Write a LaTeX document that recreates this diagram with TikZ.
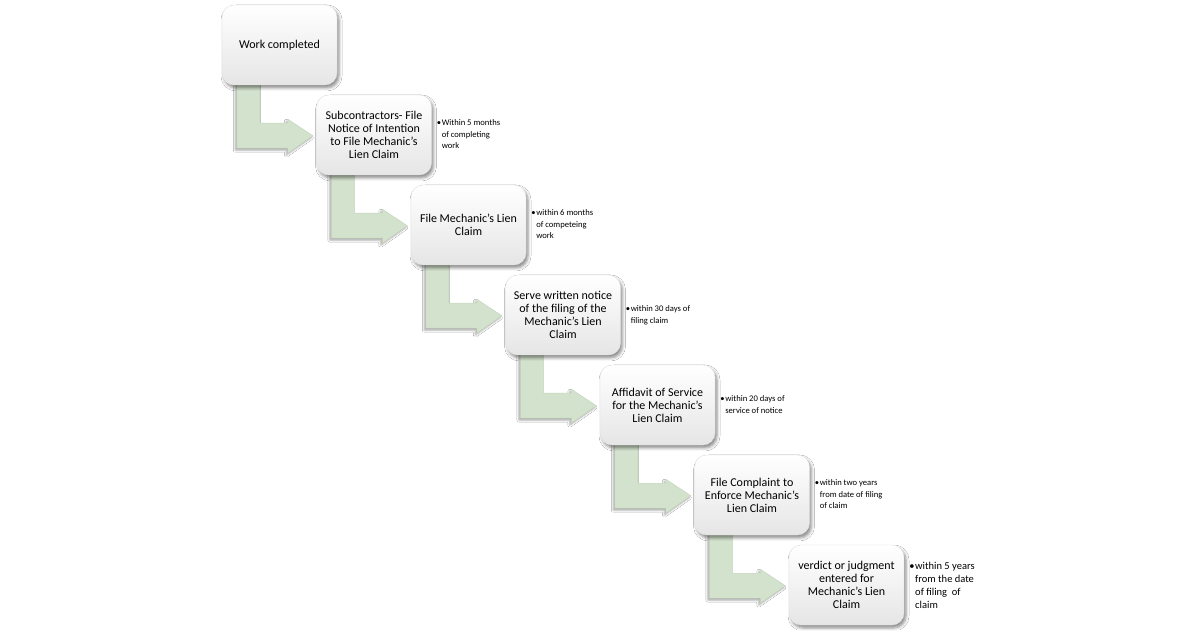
\documentclass[tikz,border=0pt]{standalone}
\usepackage{fontspec}
\setmainfont{Carlito}
\usetikzlibrary{calc,shadows.blur}
\definecolor{arrowgreen}{HTML}{D3E2CC}
\definecolor{arrowedge}{HTML}{C4D4BC}
\tikzset{
  stepbox/.style={rounded corners=12pt, minimum width=115pt, minimum height=80pt,
    inner sep=2pt, align=center, draw=gray!25, line width=0.4pt,
    top color=white, bottom color=gray!20,
    blur shadow={shadow xshift=2pt, shadow yshift=-3pt, shadow blur radius=3pt, shadow opacity=45},
    font=\fontsize{12}{13}\selectfont},
  notetext/.style={anchor=west, inner sep=0pt, font=\fontsize{8.6}{11.5}\selectfont},
  bignote/.style={anchor=west, inner sep=0pt, font=\fontsize{10.5}{13}\selectfont},
  bentarrow/.style={fill=arrowgreen, draw=arrowedge, line width=0.4pt,
    blur shadow={shadow xshift=-1.5pt, shadow yshift=-2pt, shadow blur radius=2pt, shadow opacity=35}}
}
\newcommand{\notebox}[1]{\begin{tabular}{@{}l@{\kern0.6pt}l@{}}#1\end{tabular}}
\newcommand{\bentarrowfrom}[1]{%
  \path[bentarrow] ($(#1.south west)+(15,5)$) -- ($(#1.south west)+(15,-63)$)
    -- ($(#1.south west)+(66,-63)$) -- ($(#1.south west)+(66,-68)$)
    -- ($(#1.south west)+(91,-50.5)$) -- ($(#1.south west)+(66,-34)$)
    -- ($(#1.south west)+(66,-38)$) -- ($(#1.south west)+(38,-38)$)
    -- ($(#1.south west)+(38,5)$) -- cycle;}
\begin{document}
\begin{tikzpicture}[x=1pt,y=1pt]
\useasboundingbox (0,0) rectangle (1200,630);
\fill[white] (0,0) rectangle (1200,630);
% invisible placement nodes for arrows first
\path (279.5,585) node[minimum width=115pt, minimum height=80pt, inner sep=0pt] (p1) {};
\path (374,495) node[minimum width=115pt, minimum height=80pt, inner sep=0pt] (p2) {};
\path (468.5,405) node[minimum width=115pt, minimum height=80pt, inner sep=0pt] (p3) {};
\path (563,315) node[minimum width=115pt, minimum height=80pt, inner sep=0pt] (p4) {};
\path (657.5,225) node[minimum width=115pt, minimum height=80pt, inner sep=0pt] (p5) {};
\path (752,135) node[minimum width=115pt, minimum height=80pt, inner sep=0pt] (p6) {};
% bent arrows
\bentarrowfrom{p1}
\bentarrowfrom{p2}
\bentarrowfrom{p3}
\bentarrowfrom{p4}
\bentarrowfrom{p5}
\bentarrowfrom{p6}
% boxes
\node[stepbox] (b1) at (p1) {Work completed};
\node[stepbox] (b2) at (p2) {Subcontractors- File\\Notice of Intention\\to File Mechanic's\\Lien Claim};
\node[stepbox] (b3) at (p3) {File Mechanic's Lien\\Claim};
\node[stepbox] (b4) at (p4) {Serve written notice\\of the filing of the\\Mechanic's Lien\\Claim};
\node[stepbox] (b5) at (p5) {Affidavit of Service\\for the Mechanic's\\Lien Claim};
\node[stepbox] (b6) at (p6) {File Complaint to\\Enforce Mechanic's\\Lien Claim};
\node[stepbox] (b7) at (846.5,45) {verdict or judgment\\entered for\\Mechanic's Lien\\Claim};
% notes
\node[notetext] (n2) at ($(b2.east)+(5,0)$) {\notebox{•&Within 5 months\\&of completing\\&work}};
\node[notetext] (n3) at ($(b3.east)+(5,0)$) {\notebox{•&within 6 months\\&of competeing\\&work}};
\node[notetext] (n4) at ($(b4.east)+(5,0)$) {\notebox{•&within 30 days of\\&filing claim}};
\node[notetext] (n5) at ($(b5.east)+(5,0)$) {\notebox{•&within 20 days of\\&service of notice}};
\node[notetext] (n6) at ($(b6.east)+(5,0)$) {\notebox{•&within two years\\&from date of filing\\&of claim}};
\node[bignote] (n7) at ($(b7.east)+(5,-1)$) {\notebox{•&within 5 years\\&from the date\\&of filing~ of\\&claim}};
\end{tikzpicture}
\end{document}
